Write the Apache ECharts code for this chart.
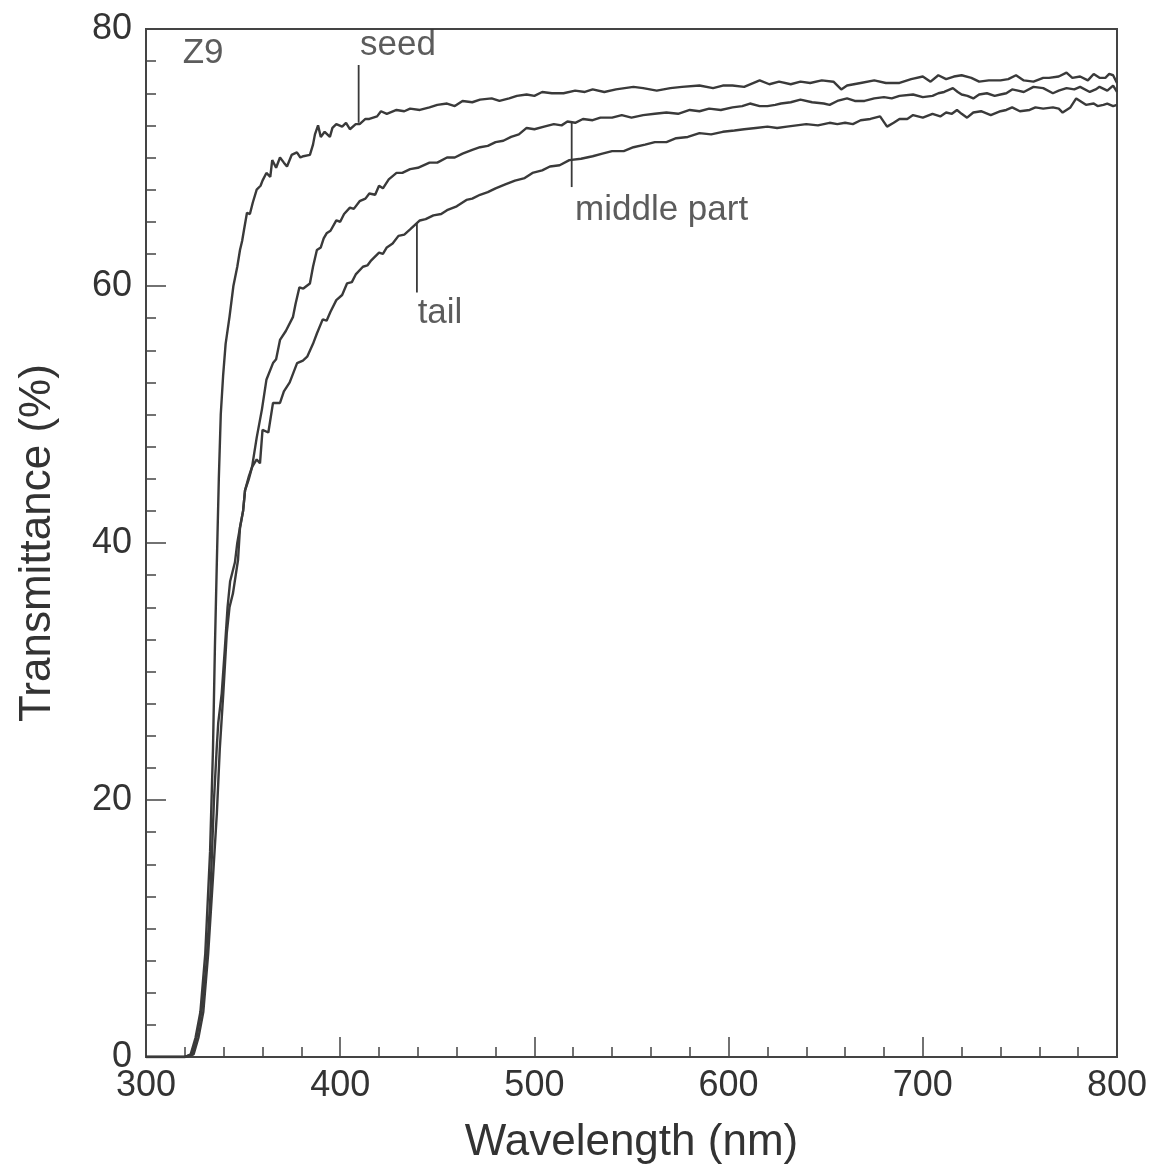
<!DOCTYPE html>
<html>
<head>
<meta charset="utf-8">
<script src="https://cdn.jsdelivr.net/npm/echarts@6/dist/echarts.min.js"></script>
<style>
html,body{margin:0;padding:0;background:#fff;}
#chart{width:1153px;height:1170px;}
</style>
</head>
<body>
<div id="chart"></div>
<script>
// Wavelength (nm) / Transmittance (%) pairs
const seedData = [
[300,0],[310,0],[320,0],[323,0.2],[325.5,1.5],[328,3.5],[330.5,8],[333,16],[334.5,24],[335.5,32],[336.4,38],[337.5,45],[338.5,50],[339.7,53],[341,55.5],[343,57.6],[345,60],[347,61.5],[348.4,62.8],[349.5,63.5],[350.5,64.4],[352,65.7],[353.5,65.6],[355,66.5],[357,67.5],[359,67.8],[360,68.2],[362,68.8],[364,68.5],[365,69.8],[367,69.2],[369,70.0],[371,69.6],[372.6,69.3],[375,70.2],[377.7,70.4],[379.5,70.0],[381,70.1],[384.4,70.2],[386,71.0],[387,71.8],[388.6,72.5],[390,71.6],[392,72.0],[394.7,71.6],[396,72.3],[398,72.6],[401,72.4],[403,72.7],[405,72.2],[408,72.6],[410,72.6],[413,73.0],[415,73.0],[419,73.2],[421,73.6],[424,73.4],[429,73.7],[433,73.6],[436,73.8],[441,73.7],[446,73.9],[450,74.1],[455,74.2],[459,74.0],[463,74.4],[468,74.3],[472,74.5],[478,74.6],[482,74.4],[487,74.6],[491,74.8],[496,74.9],[500,74.8],[504,75.1],[509,75.0],[515,75.0],[521,75.2],[526,75.1],[530,75.3],[536,75.1],[542,75.3],[551,75.5],[556,75.4],[563,75.2],[570,75.4],[576,75.5],[585,75.6],[592,75.4],[597,75.6],[602,75.6],[608,75.5],[616,76.0],[621,75.7],[626,75.9],[632,75.7],[637,75.9],[642,75.8],[648,76.0],[654,75.9],[658,75.3],[661,75.6],[668,75.8],[675,76.0],[681,75.8],[688,75.8],[694,76.1],[700,76.3],[704,75.9],[708,76.4],[712,76.1],[716,76.3],[720,76.4],[725,76.2],[729,75.9],[734,76.0],[740,76.0],[744,76.1],[748,76.4],[752,76.0],[757,75.9],[762,76.2],[765,76.2],[770,76.3],[774,76.6],[777,76.2],[781,76.3],[785,76.0],[788,76.5],[791,76.2],[794,76.2],[796,76.5],[798,76.4],[800,75.8]
];
const middleData = [
[300,0],[310,0],[320,0],[324,0.2],[326,1.5],[328.5,3.5],[331,7],[333,12],[335,20],[336.4,24],[337.2,26],[339,28.3],[340.7,32],[342,35],[343.3,37],[345.8,38.5],[347,40],[348.4,41.2],[350,42.5],[351,44.1],[353,45],[354.6,45.9],[357,48.2],[359.7,50.4],[362,52.7],[365.4,54.0],[367,54.3],[369,55.8],[372,56.5],[375.7,57.6],[377,58.6],[379,59.9],[381,59.8],[384.4,60.2],[386,61.5],[388,62.8],[390,63.0],[391.5,63.7],[393,64.1],[395,64.3],[398,65.1],[400,65.0],[402,65.6],[405,66.1],[407,66.0],[410,66.6],[413,66.8],[415,67.2],[418,67.1],[420,67.8],[422,67.6],[425,68.3],[429,68.8],[432,68.8],[436,69.1],[440,69.2],[446,69.6],[450,69.6],[455,70.0],[459,70.0],[463,70.3],[468,70.6],[472,70.8],[476,70.9],[480,71.2],[484,71.3],[488,71.6],[492,71.8],[496,72.3],[500,72.2],[505,72.4],[510,72.6],[514,72.5],[517,72.8],[521,72.7],[525,73.0],[530,72.9],[534,73.1],[540,73.1],[545,73.3],[550,73.1],[556,73.3],[562,73.4],[568,73.5],[574,73.4],[580,73.7],[585,73.6],[590,73.8],[596,73.7],[602,73.9],[607,74.0],[611,74.2],[616,74.0],[620,74.0],[624,74.1],[627,74.2],[632,74.3],[637,74.5],[643,74.3],[649,74.2],[652,74.1],[656,74.4],[661,74.6],[665,74.4],[670,74.4],[675,74.6],[680,74.7],[684,74.6],[688,74.8],[695,74.9],[700,74.7],[705,74.8],[708,75.0],[711,75.1],[715.5,75.4],[718,75.1],[720,74.9],[723,74.8],[726,74.6],[729,74.9],[733,75.0],[737,74.8],[740,74.9],[743,75.0],[746,75.3],[749,75.2],[752,75.1],[757,75.5],[762,75.4],[767,75.0],[770,75.2],[774,75.4],[778,75.3],[781,75.5],[786,75.1],[789,75.3],[791,75.5],[795,75.2],[798,75.6],[800,75.1]
];
const tailData = [
[300,0],[310,0],[320,0],[324.5,0.2],[327,1.5],[329.5,3.5],[332,8],[334.5,14],[336.5,19],[338,24],[339.8,28.3],[341.6,33],[343,35],[344.8,36.1],[347.4,38.7],[348.4,41.2],[350,42.5],[351,44.1],[353,45.2],[354.6,45.9],[357,46.5],[358.7,46.2],[360,48.8],[363,48.6],[365.4,50.9],[369,50.9],[371,51.8],[374,52.5],[377.8,54.0],[380.8,54.2],[383,54.5],[386,55.5],[388,56.3],[391,57.4],[393,57.3],[395,58.0],[398,58.9],[401,59.3],[403.5,60.2],[406,60.3],[408,60.9],[411.7,61.5],[414,61.6],[416,62.0],[420,62.6],[422,62.5],[424,63.0],[427,63.3],[430,63.9],[433,64.0],[436,64.4],[441,65.1],[444,65.2],[448,65.5],[452,65.6],[455,65.9],[460,66.2],[465,66.7],[468,66.8],[472,67.1],[476,67.3],[480,67.6],[485,67.9],[490,68.2],[495,68.4],[499,68.8],[504,69.0],[508,69.3],[513,69.4],[518,69.8],[524,69.9],[530,70.1],[535,70.3],[540,70.5],[546,70.5],[551,70.8],[557,71.0],[562,71.2],[568,71.2],[573,71.5],[579,71.6],[585,71.9],[591,71.8],[597,72.0],[603,72.1],[608,72.2],[614,72.3],[620,72.4],[625,72.3],[630,72.4],[635,72.5],[640,72.6],[646,72.5],[652,72.7],[656,72.6],[660,72.7],[664,72.6],[668,72.9],[673,73.0],[678,73.2],[681.6,72.4],[685,72.7],[688,73.0],[692,73.0],[695,73.3],[700,73.1],[705,73.4],[709,73.2],[712,73.5],[715,73.4],[717.6,73.7],[720,73.4],[722.8,73.1],[726,73.5],[730,73.6],[735,73.3],[740,73.6],[743,73.7],[746,73.9],[750,73.6],[755,73.7],[758,73.9],[762,73.8],[767,73.9],[770,73.8],[772,73.5],[776,73.9],[779,74.6],[782,74.3],[784,74.1],[788,74.2],[790,74.0],[793,74.1],[795,74.2],[798,74.0],[800,74.1]
];

// annotation leader lines and labels (data coordinates)
const seedLeader = [[409.5,77.2],[409.5,72.7]];
const middleLeader = [[519.2,72.7],[519.2,67.7]];
const tailLeader = [[439.5,64.9],[439.5,59.5]];
const annotationLabels = [
  {name:'Z9', value:[329.4,78.1]},
  {name:'seed', value:[429.8,78.75]},
  {name:'middle part', value:[565.5,65.9]},
  {name:'tail', value:[451.4,57.9]}
];

const xTicks = [300,400,500,600,700,800];
const yTicks = [0,20,40,60,80];

const ink = '#333333';
const font = 'Liberation Sans';

const chart = echarts.init(document.getElementById('chart'), null, {renderer:'canvas'});

function curve(name, data){
  return {
    name: name, type:'line', data: data, showSymbol:false, symbol:'none',
    lineStyle:{color:'#3a3a3a', width:2.4}, smooth:false, clip:true, z:3, silent:true
  };
}
function leader(data){
  return {
    type:'line', data: data, showSymbol:false, symbol:'none',
    lineStyle:{color:'#3a3a3a', width:1.8}, z:4, silent:true
  };
}

chart.setOption({
  animation:false,
  backgroundColor:'#ffffff',
  grid:{left:146, right:36, top:29, bottom:113, show:true, borderColor:'#444', borderWidth:2, backgroundColor:'transparent'},
  xAxis:{
    type:'value', min:xTicks[0], max:xTicks[xTicks.length-1], interval:100,
    name:'Wavelength (nm)', nameLocation:'middle', nameGap:64,
    nameTextStyle:{fontFamily:font, fontSize:44, color:ink},
    axisLine:{show:true, lineStyle:{color:'#444', width:2}},
    axisTick:{show:true, inside:true, length:20, lineStyle:{color:'#444', width:1.5}},
    minorTick:{show:true, splitNumber:5, length:10, lineStyle:{color:'#444', width:1.5}},
    axisLabel:{fontFamily:font, fontSize:36, color:ink, margin:11},
    splitLine:{show:false}
  },
  yAxis:{
    type:'value', min:yTicks[0], max:yTicks[yTicks.length-1], interval:20,
    name:'Transmittance (%)', nameLocation:'middle', nameGap:86,
    nameTextStyle:{fontFamily:font, fontSize:44, color:ink},
    axisLine:{show:true, lineStyle:{color:'#444', width:2}},
    axisTick:{show:true, inside:true, length:20, lineStyle:{color:'#444', width:1.5}},
    minorTick:{show:true, splitNumber:8, length:10, lineStyle:{color:'#444', width:1.5}},
    axisLabel:{fontFamily:font, fontSize:36, color:ink, margin:14},
    splitLine:{show:false}
  },
  series:[
    curve('seed', seedData),
    curve('middle part', middleData),
    curve('tail', tailData),
    leader(seedLeader),
    leader(middleLeader),
    leader(tailLeader),
    {
      type:'scatter', data: annotationLabels, symbolSize:0, z:5, silent:true,
      label:{show:true, position:'inside', formatter:'{b}', fontFamily:font, fontSize:35, color:ink}
    }
  ]
});
</script>
</body>
</html>
